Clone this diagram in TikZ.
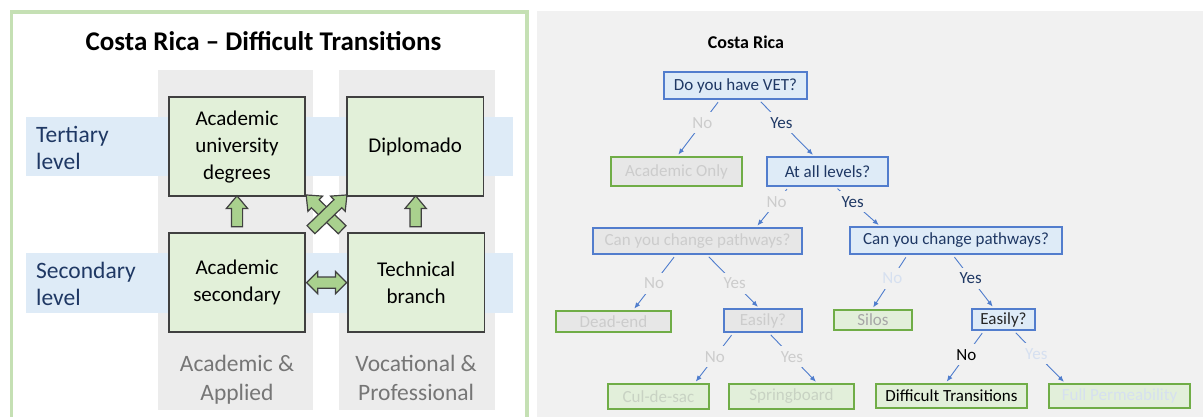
\documentclass[tikz,border=0pt]{standalone}
\usepackage{fontspec}
\setsansfont{Carlito}
\usetikzlibrary{shapes.arrows, arrows.meta, positioning, calc}
\definecolor{frameGreen}{RGB}{197, 224, 180}
\definecolor{colGray}{RGB}{236, 236, 236}
\definecolor{bandBlue}{RGB}{222, 235, 247}
\definecolor{boxGreen}{RGB}{226, 240, 217}
\definecolor{boxEdge}{RGB}{64, 64, 64}
\definecolor{arrowGreen}{RGB}{169, 209, 142}
\definecolor{levelBlue}{RGB}{31, 56, 100}
\definecolor{trackGray}{RGB}{118, 118, 118}
\definecolor{panelBg}{RGB}{241, 241, 241}
\definecolor{askFill}{RGB}{222, 235, 247}
\definecolor{askEdge}{RGB}{82, 125, 205}
\definecolor{offFill}{RGB}{231, 231, 231}
\definecolor{leafFill}{RGB}{226, 239, 218}
\definecolor{leafEdge}{RGB}{112, 173, 71}
\definecolor{navyText}{RGB}{31, 56, 100}
\definecolor{fadeText}{RGB}{204, 204, 204}
\definecolor{fadeGreenText}{RGB}{200, 210, 195}
\definecolor{fadeBlueText}{RGB}{214, 224, 240}
\definecolor{silosText}{RGB}{166, 166, 166}
\definecolor{linkBlue}{RGB}{79, 125, 205}

\begin{document}
\begin{tikzpicture}[x=1pt, y=1pt]

% Style definitions
\tikzset{
    base/.style={rectangle, font=\sffamily, align=center, outer sep=0pt},
    column/.style={base, fill=colGray, inner sep=0pt},
    band/.style={base, fill=bandBlue, inner sep=0pt},
    stage/.style={
        base, draw=boxEdge, fill=boxGreen, line width=1.6pt,
        minimum width=136.5pt, minimum height=99pt,
        font=\sffamily\fontsize{21pt}{27pt}\selectfont
    },
    levelname/.style={font=\sffamily\fontsize{23.5pt}{27.5pt}\selectfont, text=levelBlue, align=left, inner sep=0pt},
    trackname/.style={font=\sffamily\fontsize{23.5pt}{29pt}\selectfont, text=trackGray, align=center, inner sep=0pt},
    blockarrow/.style={
        single arrow, draw=boxEdge, fill=arrowGreen, line width=1.2pt, inner sep=5pt,
        single arrow head extend=5pt, single arrow tip angle=80, minimum height=31pt
    },
    swaparrow/.style={
        double arrow, draw=boxEdge, fill=arrowGreen, line width=1.2pt, inner sep=5pt,
        double arrow head extend=5.5pt, double arrow tip angle=90, minimum height=40pt
    },
    ask/.style={
        base, draw=askEdge, fill=askFill, line width=1.3pt, text=navyText, inner sep=1pt,
        font=\sffamily\fontsize{17pt}{20pt}\selectfont
    },
    askoff/.style={ask, fill=offFill, text=fadeText},
    leaf/.style={ask, draw=leafEdge, fill=leafFill, text=fadeGreenText},
    leafoff/.style={leaf, fill=offFill, text=fadeText},
    choice/.style={
        font=\sffamily\fontsize{17pt}{20pt}\selectfont, fill=panelBg, text=fadeText,
        inner xsep=2pt, inner ysep=0pt, minimum height=21pt
    },
    link/.style={
        draw=linkBlue, line width=0.9pt, -{Latex[length=6pt, width=5pt]},
        shorten <=4pt, shorten >=3pt
    }
}

\useasboundingbox (0,0) rectangle (1203,417);

% ---------------- Left panel ----------------
\draw [draw=frameGreen, line width=3.5pt] (11.3,-5) |- (527,405) -- (527,-5);

\node (title) [anchor=base, font=\sffamily\bfseries\fontsize{27pt}{30pt}\selectfont] at (263.5,366)
    {Costa Rica – Difficult Transitions};

% Pathway columns and level bands
\node (col_acad) [column, minimum width=155.6pt, minimum height=340.3pt] at (235.5,176.85) {};
\node (col_voc) [column, minimum width=156pt, minimum height=340.3pt] at (417,176.85) {};
\node (band_tert) [band, minimum width=487pt, minimum height=59.3pt] at (269.5,270.65) {};
\node (band_sec) [band, minimum width=487pt, minimum height=60pt] at (269.5,134) {};

\node (lvl_tert) [levelname, anchor=west] at (36,269.1) {Tertiary\\level};
\node (lvl_sec) [levelname, anchor=west] at (36,133.25) {Secondary\\level};

% Stages
\node (acad_uni) [stage] at (237,270.35) {Academic\\university\\degrees};
\node (diplomado) [stage, right=41.7pt of acad_uni] {Diplomado};
\node (acad_sec) [stage, below=37pt of acad_uni] {Academic\\secondary};
\node (tech_branch) [stage, right=42.6pt of acad_sec] {Technical\\branch};

\node (track_acad) [trackname, below=22.5pt of acad_sec] {Academic \&\\Applied};
\node (track_voc) [trackname, below=22.5pt of tech_branch] {Vocational \&\\Professional};

% Block arrows
\node (up_acad) [blockarrow, rotate=90] at ($(acad_sec.north)!0.5!(acad_uni.south)$) {};
\node (up_voc) [blockarrow, rotate=90] at ($(tech_branch.north)!0.5!(diplomado.south)$) {};
\node (swap) [swaparrow] at ($(acad_sec.east)!0.5!(tech_branch.west)$) {};
\node (cross_left) [blockarrow, minimum height=50pt, rotate=136]
    at ($(acad_uni.south east)!0.5!(tech_branch.north west)$) {};
\node (cross_right) [blockarrow, minimum height=50pt, rotate=44]
    at ($(acad_uni.south east)!0.5!(tech_branch.north west)$) {};

% ---------------- Right panel ----------------
\fill [panelBg] (537,0) rectangle (1203,406);

\node (title_cr) [anchor=base, font=\sffamily\bfseries\fontsize{18pt}{20pt}\selectfont] at (746,368.7) {Costa Rica};

\node (vet) [ask, minimum width=143pt, minimum height=27pt] at (735.5,331.5) {Do you have VET?};
\node (acad_only) [leafoff, minimum width=131pt, minimum height=29pt, below=58pt of vet, xshift=-59pt] {Academic Only};
\node (all_levels) [ask, minimum width=121pt, minimum height=29pt, below=58pt of vet, xshift=92pt] {At all levels?};

\node (change_no) [askoff, minimum width=209pt, minimum height=26pt, below=42pt of all_levels, xshift=-130pt] {Can you change pathways?};
\node (change_yes) [ask, minimum width=212pt, minimum height=27pt, below=41pt of all_levels, xshift=128.5pt] {Can you change pathways?};

\node (dead_end) [leafoff, minimum width=115pt, minimum height=21pt, below=57pt of change_no, xshift=-84pt] {Dead-end};
\node (easy_no) [askoff, minimum width=78pt, minimum height=23pt, below=55pt of change_no, xshift=65.5pt] {Easily?};
\node (silos) [leaf, text=silosText, minimum width=78pt, minimum height=20pt, below=56pt of change_yes, xshift=-83pt] {Silos};
\node (easy_yes) [ask, text=black!85, minimum width=63pt, minimum height=21pt, below=55pt of change_yes, xshift=47.5pt] {Easily?};

\node (cul_de_sac) [leaf, minimum width=101pt, minimum height=25pt, below=52pt of easy_no, xshift=-104.5pt] {Cul-de-sac};
\node (springboard) [leaf, minimum width=125pt, minimum height=25pt, below=52pt of easy_no, xshift=28.5pt] {Springboard};
\node (difficult) [leaf, text=black, minimum width=151pt, minimum height=24pt, below=54pt of easy_yes, xshift=-52pt] {Difficult Transitions};
\node (full_perm) [leaf, text=fadeBlueText, minimum width=141pt, minimum height=24pt, below=54pt of easy_yes, xshift=116pt] {Full Permeability};

% Connections
\draw [link] ([xshift=-15pt]vet.south) -- node [choice, pos=0.41] {No} (acad_only.north);
\draw [link] ([xshift=22.5pt]vet.south) -- node [choice, pos=0.41, text=navyText] {Yes} ([xshift=-12.5pt]all_levels.north);
\draw [link] ([xshift=-38pt]all_levels.south) -- node [choice, pos=0.38] {No} ([xshift=58pt]change_no.north);
\draw [link] ([xshift=7pt]all_levels.south) -- node [choice, pos=0.39, text=navyText] {Yes} ([xshift=-75pt]change_yes.north);
\draw [link] ([xshift=-21pt]change_no.south) -- node [choice, pos=0.51] {No} ([xshift=19pt]dead_end.north);
\draw [link] ([xshift=8.5pt]change_no.south) -- node [choice, pos=0.53] {Yes} ([xshift=-3pt]easy_no.north);
\draw [link] ([xshift=-48pt]change_yes.south) -- node [choice, pos=0.43, text=fadeBlueText] {No} ([xshift=-1.5pt]silos.north);
\draw [link] ([xshift=-4pt]change_yes.south) -- node [choice, pos=0.44, text=navyText] {Yes} ([xshift=-9pt]easy_yes.north);
\draw [link] ([xshift=-29pt]easy_no.south) -- node [choice, pos=0.48] {No} ([xshift=35.5pt]cul_de_sac.north);
\draw [link] ([xshift=5pt]easy_no.south) -- node [choice, pos=0.48] {Yes} ([xshift=26.5pt]springboard.north);
\draw [link] ([xshift=-19pt]easy_yes.south) -- node [choice, pos=0.46, text=black] {No} ([xshift=-6.5pt]difficult.north);
\draw [link] ([xshift=9.5pt]easy_yes.south) -- node [choice, pos=0.44, text=fadeBlueText] {Yes} ([xshift=-53.5pt]full_perm.north);

\end{tikzpicture}
\end{document}
